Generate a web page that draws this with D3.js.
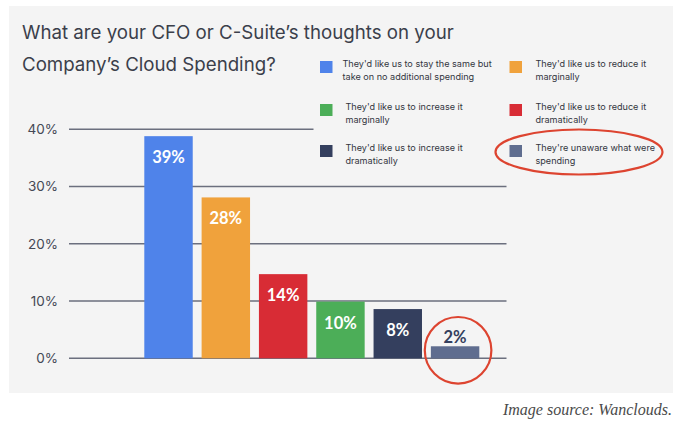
<!DOCTYPE html>
<html>
<head>
<title>CFO thoughts on cloud spending</title>
<script src="https://d3js.org/d3.v7.min.js"></script>
<style type="text/css">
  body { margin: 0; background: #ffffff; }
  #chart { position: absolute; top: 0; left: 0; }
</style>
</head>
<body>
<div id="chart"></div>
<script type="text/javascript">

// data
var categories = ["They'd like us to stay the same but take on no additional spending",
                  "They'd like us to reduce it marginally",
                  "They'd like us to reduce it dramatically",
                  "They'd like us to increase it marginally",
                  "They'd like us to increase it dramatically",
                  "They're unaware what were spending"];
var values = [38.8, 28.1, 14.7, 9.9, 8.6, 2.1];
var valueLabels = ["39%", "28%", "14%", "10%", "8%", "2%"];
var colors = ["#4f83ea", "#f0a23c", "#d82c35", "#4cae58", "#343f5e", "#5f6d8f"];
var yTicks = [0, 10, 20, 30, 40];

// legend order (two columns, three rows)
var legendOrder = [0, 3, 4, 1, 2, 5];
var legendLines = [["They'd like us to stay the same but", "take on no additional spending"],
                   ["They'd like us to reduce it", "marginally"],
                   ["They'd like us to reduce it", "dramatically"],
                   ["They'd like us to increase it", "marginally"],
                   ["They'd like us to increase it", "dramatically"],
                   ["They're unaware what were", "spending"]];

var width = 680,
    height = 422;

var svg = d3.select("#chart")
            .append("svg")
            .attr("width", width)
            .attr("height", height);

svg.append("rect")
   .attr("x", 9).attr("y", 6)
   .attr("width", 664).attr("height", 387)
   .attr("fill", "#f4f4f4");

// title
var title = svg.append("text")
   .attr("font-family", "Inter, 'Noto Sans', sans-serif")
   .attr("font-size", 18.7)
   .attr("fill", "#3b3f4b");
title.append("tspan").attr("x", 22).attr("y", 39)
     .text("What are your CFO or C-Suite\u2019s thoughts on your");
title.append("tspan").attr("x", 22).attr("y", 71)
     .text("Company\u2019s Cloud Spending?");

var y = d3.scaleLinear()
          .domain([0, 40])
          .range([358.3, 129.3]);

var x = d3.scaleBand()
          .domain(d3.range(values.length))
          .range([144.3, 479.3])
          .paddingInner(0.155)
          .paddingOuter(0);

// gridlines
var yAxis = d3.axisLeft(y)
              .tickValues(yTicks)
              .tickSize(0)
              .tickPadding(11)
              .tickFormat(function(d){ return d + "%"; });

var ga = svg.append("g")
            .attr("transform", "translate(69,0)")
            .call(yAxis);
ga.select(".domain").remove();
ga.selectAll("text")
  .attr("font-family", "Inter, 'Noto Sans', sans-serif")
  .attr("font-size", 13.5)
  .attr("fill", "#444854");

svg.append("g").selectAll("line")
   .data(yTicks)
   .enter()
   .append("line")
   .attr("x1", 69)
   .attr("x2", function(d){ return d == 40 ? 313.5 : 506.5; })
   .attr("y1", function(d){ return y(d); })
   .attr("y2", function(d){ return y(d); })
   .attr("stroke", "#6b6f7e")
   .attr("stroke-width", 1.6);

// bars
svg.append("g").selectAll("rect")
   .data(values)
   .enter()
   .append("rect")
   .attr("x", function(d, i){ return x(i); })
   .attr("y", function(d){ return y(d); })
   .attr("width", x.bandwidth())
   .attr("height", function(d){ return y(0) - y(d); })
   .attr("fill", function(d, i){ return colors[i]; });

svg.append("g").selectAll("text")
   .data(values)
   .enter()
   .append("text")
   .attr("x", function(d, i){ return x(i) + x.bandwidth() / 2; })
   .attr("y", function(d){ return d < 5 ? y(d) - 3 : y(d) + 27; })
   .attr("text-anchor", "middle")
   .attr("font-family", "Lato, 'Noto Sans', sans-serif")
   .attr("font-weight", "bold")
   .attr("font-size", 16.5)
   .attr("fill", function(d){ return d < 5 ? "#343f5e" : "#ffffff"; })
   .text(function(d, i){ return valueLabels[i]; });

// legend
var colX = [320, 509.5],
    textX = [[342.5, 345.5, 345.5], [535.5, 535.5, 535.5]],
    rowY = [61, 104, 145];

var legend = svg.append("g").selectAll("g")
   .data(legendOrder)
   .enter()
   .append("g");

legend.append("rect")
   .attr("x", function(d, i){ return colX[Math.floor(i / 3)]; })
   .attr("y", function(d, i){ return rowY[i % 3]; })
   .attr("width", 12.5).attr("height", 12)
   .attr("fill", function(d){ return colors[d]; });

legend.append("text")
   .attr("font-family", "Inter, 'Noto Sans', sans-serif")
   .attr("font-size", 9.1)
   .attr("fill", "#33363f")
   .each(function(d, i){
      var t = d3.select(this);
      legendLines[d].forEach(function(line, k){
         t.append("tspan")
          .attr("x", textX[Math.floor(i / 3)][i % 3])
          .attr("y", rowY[i % 3] + 6 + k * 12.7)
          .text(line);
      });
   });

// red highlight marks
svg.append("ellipse")
   .attr("cx", 579).attr("cy", 152)
   .attr("rx", 83.5).attr("ry", 22.5)
   .attr("fill", "none")
   .attr("stroke", "#dd4430")
   .attr("stroke-width", 2.2);

svg.append("circle")
   .attr("cx", x(5) + x.bandwidth() / 2 + 3)
   .attr("cy", 350.3)
   .attr("r", 33.3)
   .attr("fill", "none")
   .attr("stroke", "#dd4430")
   .attr("stroke-width", 2.2);

svg.append("text")
   .attr("x", 672).attr("y", 415)
   .attr("text-anchor", "end")
   .attr("font-family", "'Liberation Serif', serif")
   .attr("font-style", "italic")
   .attr("font-size", 16)
   .attr("fill", "#4a4a4a")
   .text("Image source: Wanclouds.");

</script>
</body>
</html>
